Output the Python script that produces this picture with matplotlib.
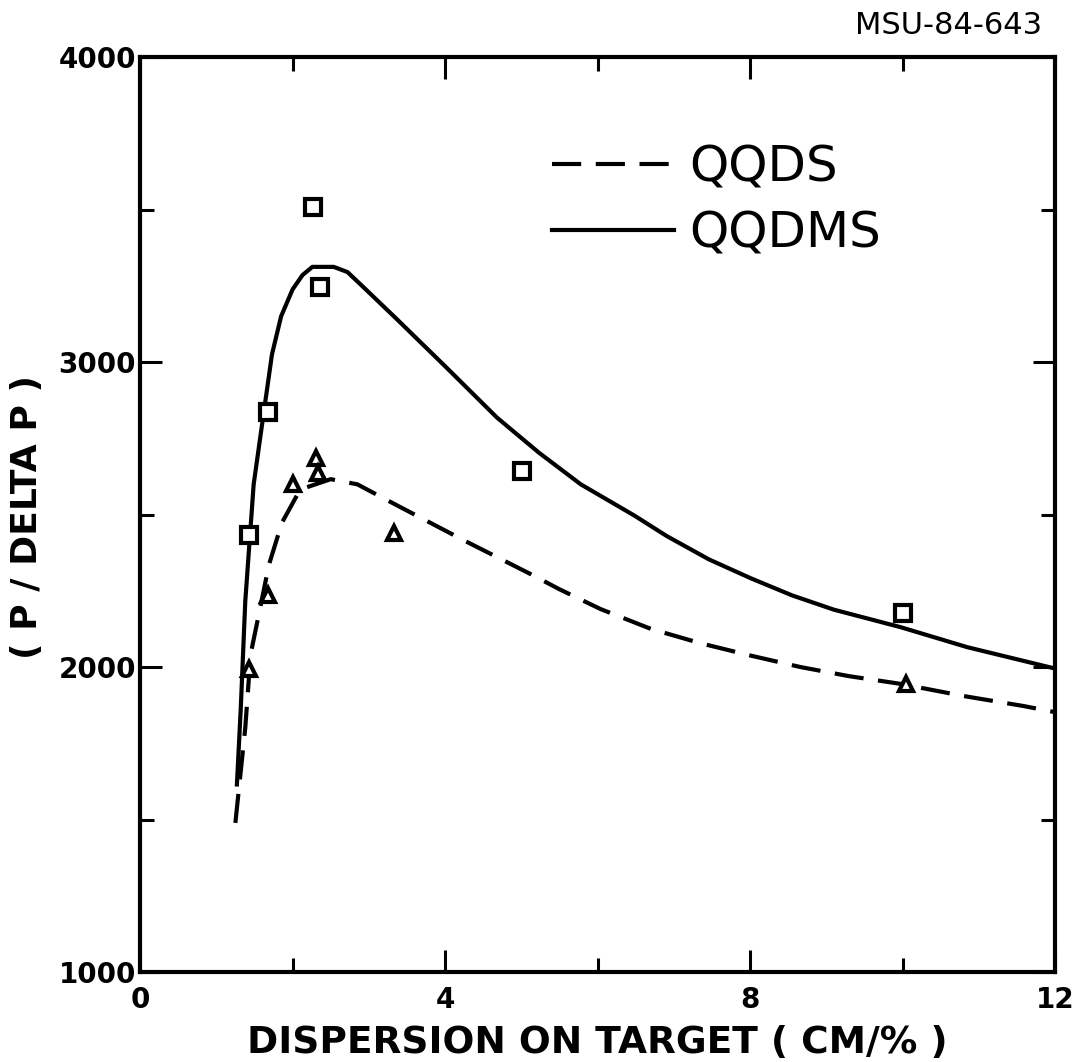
import matplotlib
matplotlib.use('Agg')
import matplotlib.pyplot as plt
from matplotlib.ticker import FixedLocator

# curve QQDMS (solid)
qqdms_x = [1.27, 1.32, 1.38, 1.49, 1.60, 1.73, 1.85, 2.00, 2.13, 2.26, 2.54, 2.72,
           2.94, 3.37, 4.03, 4.68, 5.23, 5.78, 6.48, 6.91, 7.46, 8.01, 8.55, 9.10,
           9.97, 10.85, 12.0]
qqdms_y = [1615, 1860, 2216, 2599, 2795, 3025, 3150, 3238, 3285, 3312, 3312, 3295,
           3243, 3140, 2979, 2818, 2703, 2599, 2497, 2429, 2353, 2291, 2235, 2188,
           2131, 2065, 1995]

# curve QQDS (dashed)
qqds_x = [1.25, 1.38, 1.45, 1.54, 1.69, 1.86, 2.10, 2.50, 2.85, 3.37, 4.25, 5.12,
          5.50, 6.04, 6.70, 7.35, 8.00, 8.66, 9.30, 9.97, 10.80, 11.59, 12.0]
qqds_y = [1489, 1801, 2042, 2151, 2335, 2473, 2582, 2616, 2599, 2530, 2415, 2305,
          2255, 2190, 2125, 2078, 2038, 2000, 1970, 1945, 1905, 1872, 1852]

# measured points
sq_x = [2.27, 2.36, 1.68, 1.43, 5.01, 10.01]
sq_y = [3508, 3246, 2835, 2432, 2642, 2177]
tri_x = [1.43, 1.68, 2.00, 2.31, 2.33, 3.33, 10.04]
tri_y = [1995, 2237, 2599, 2686, 2636, 2438, 1945]

xmajor = [0, 4, 8, 12]
xminor = [2, 6, 10]
ymajor = [1000, 2000, 3000, 4000]
yminor = [1500, 2500, 3500]

fig = plt.figure(figsize=(10.74, 10.62), dpi=100)
ax = fig.add_axes([0.1304, 0.0847, 0.8520, 0.8616])

lw = 3.0
l_ds, = ax.plot(qqds_x, qqds_y, color='black', lw=lw, ls=(0, (7, 3.5)), label='QQDS')
l_dms, = ax.plot(qqdms_x, qqdms_y, color='black', lw=lw, ls='-', label='QQDMS')
ax.plot(sq_x, sq_y, ls='none', marker='s', ms=12, mfc='white', mec='black', mew=3)
ax.plot(tri_x, tri_y, ls='none', marker='^', ms=10, mfc='white', mec='black', mew=3)

ax.set_xlim(0, 12)
ax.set_ylim(1000, 4000)
ax.xaxis.set_major_locator(FixedLocator(xmajor))
ax.xaxis.set_minor_locator(FixedLocator(xminor))
ax.yaxis.set_major_locator(FixedLocator(ymajor))
ax.yaxis.set_minor_locator(FixedLocator(yminor))
ax.tick_params(which='both', direction='in', top=True, right=True, width=2.2, color='black')
ax.tick_params(which='major', length=16)
ax.tick_params(which='minor', length=10)
ax.tick_params(axis='x', which='major', pad=10)
ax.tick_params(axis='y', which='major', pad=3)
for lab in ax.get_xticklabels() + ax.get_yticklabels():
    lab.set_fontsize(20)
    lab.set_fontweight('bold')
for s in ax.spines.values():
    s.set_linewidth(3)

ax.set_xlabel('DISPERSION ON TARGET ( CM/% )', fontsize=27, fontweight='bold', labelpad=8)
ax.set_ylabel('( P / DELTA P )', fontsize=26, fontweight='bold')
ax.yaxis.set_label_coords(-0.105, 0.497)

leg = ax.legend(handles=[l_ds, l_dms], loc='upper left', bbox_to_anchor=(0.45, 0.906),
                frameon=False, fontsize=36, handlelength=2.45, handletextpad=0.3,
                borderpad=0, borderaxespad=0, labelspacing=0.36)

fig.text(1042 / 1074, 1 - 26 / 1062, 'MSU-84-643', ha='right', va='center', fontsize=22)

plt.savefig('out.png', dpi=100)
